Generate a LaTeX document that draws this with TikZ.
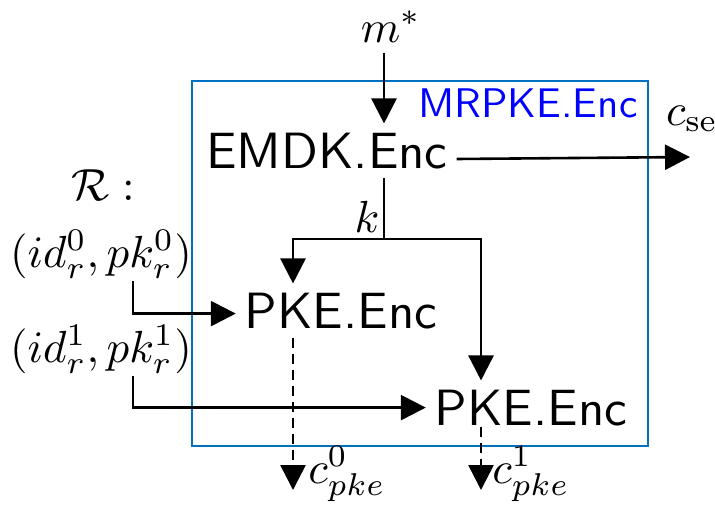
\documentclass[tikz,border=0pt]{standalone}
\usetikzlibrary{arrows.meta}
\definecolor{boxblue}{RGB}{0,112,192}

\begin{document}
\begin{tikzpicture}[x=0.5pt, y=-0.5pt,
  blk/.style={anchor=base, inner sep=1.6pt, scale=2.55, font=\sffamily},
  lbl/.style={anchor=base, inner sep=2.2pt, scale=2.25},
  rcp/.style={lbl, inner sep=0.45pt},
  arr/.style={line width=1.3pt, -{Triangle[length=12.5pt,width=12.5pt]}},
  darr/.style={arr, dash pattern=on 5pt off 3pt}]
  \useasboundingbox (0,0) rectangle (715,511);
  % outer box
  \draw[line width=1pt, boxblue] (192,81) rectangle (648,446);
  \node[anchor=base, text=blue, scale=2.07, font=\sffamily] (title) at (528,117) {MRPKE.Enc};
  % blocks
  \node[blk] (emdk) at (327,168) {EMDK.Enc};
  \node[blk] (pkeA) at (341,328) {PKE.Enc};
  \node[blk] (pkeB) at (531,425) {PKE.Enc};
  % labels
  \node[lbl] (msg) at (391,42) {$m^*$};
  \node[lbl] (cse) at (692,125) {$c_{\mathrm{se}}$};
  \node[lbl] (reg) at (103,200) {$\mathcal{R}:$};
  \node[rcp] (rcpA) at (101,267) {$(id_r^0, pk_r^0)$};
  \node[rcp] (rcpB) at (101,362) {$(id_r^1, pk_r^1)$};
  \node[lbl] (key) at (367,232) {$k$};
  \node[lbl] (cA) at (347,483) {$c_{pke}^0$};
  \node[lbl] (cB) at (531,483) {$c_{pke}^1$};
  \coordinate (split) at (384,239);
  \coordinate (cseend) at (690,157);
  \coordinate (endA) at (293,490);
  \coordinate (endB) at (481,490);
  % connectors
  \draw[arr] (msg.south -| split) -- (emdk.north -| split);
  \draw[arr] ([yshift=-4.2pt]emdk.east) -- (cseend);
  \draw[line width=1.3pt] (emdk.south -| split) -- (split);
  \draw[arr] (split) -| (endA |- pkeA.north);
  \draw[arr] (split) -| (endB |- pkeB.north);
  \draw[arr] ([xshift=16pt]rcpA.south) |- ([yshift=-1.5pt]pkeA.west);
  \draw[arr] ([xshift=16pt]rcpB.south) |- (pkeB.west);
  \draw[darr] (pkeA.south -| endA) -- (endA);
  \draw[darr] ([yshift=4pt]pkeB.south -| endB) -- (endB);
\end{tikzpicture}
\end{document}
